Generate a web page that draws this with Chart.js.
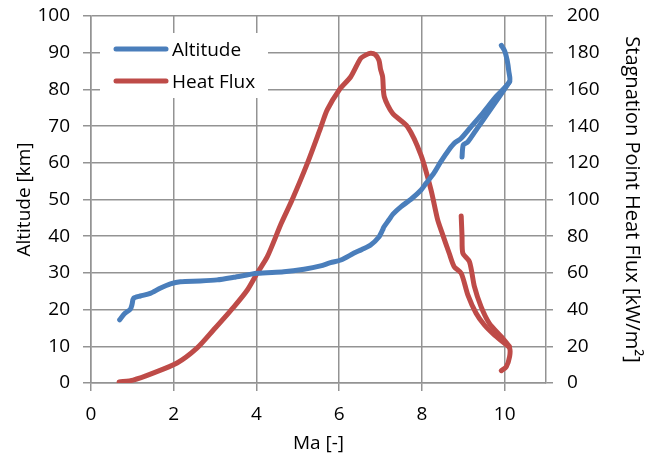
<!DOCTYPE html>
<html><head><meta charset="utf-8">
<script src="https://cdn.jsdelivr.net/npm/chart.js@4"></script>
<style>html,body{margin:0;padding:0;background:#fff}</style>
</head><body>
<canvas id="c" width="652" height="456"></canvas>
<script>
// ---- data ----
const seriesNames = ['Altitude', 'Heat Flux'];
const altMa = [9.92, 10.0, 10.06, 10.1, 10.12, 9.79, 9.47, 9.2, 8.95, 8.78, 8.65, 8.45, 8.29, 8.1, 7.98, 7.75, 7.49, 7.3, 7.2, 7.08, 7.05, 6.96, 6.76, 6.55, 6.36, 6.04, 5.79, 5.55, 5.15, 4.66, 4.02, 3.45, 3.05, 2.64, 2.16, 1.92, 1.67, 1.43, 1.19, 1.03, 0.99, 0.95, 0.82, 0.69];
const altKm = [92, 90.5, 88, 85, 82.1, 78, 73.5, 70, 66.7, 65.3, 63.5, 60.2, 57.2, 54.4, 52.6, 50.2, 48, 46, 44.4, 42.5, 41.7, 39.8, 37.6, 36.4, 35.4, 33.5, 32.8, 31.9, 31, 30.3, 29.9, 28.8, 28.1, 27.8, 27.6, 27, 25.8, 24.4, 23.7, 23.1, 21.3, 20.1, 19, 17.2];
const altBranchMa = [10.12, 9.87, 9.6, 9.35, 9.11, 9.0, 8.97];
const altBranchKm = [82.1, 78, 73.6, 69.6, 65.7, 64.9, 61.6];
const heatMa = [9.92, 10.04, 10.12, 10.12, 10.0, 9.75, 9.51, 9.31, 9.11, 8.95, 8.78, 8.66, 8.5, 8.38, 8.22, 7.98, 7.65, 7.29, 7.09, 7.05, 7.0, 6.96, 6.87, 6.76, 6.65, 6.52, 6.28, 6.0, 5.71, 5.55, 5.23, 4.86, 4.6, 4.26, 4.02, 3.78, 3.45, 2.96, 2.56, 2.08, 1.5, 1.02, 0.68];
const heatKw = [6.7, 8.9, 14.4, 19, 21.6, 26.2, 31.6, 38, 48, 59.8, 63.4, 70.7, 81, 89, 105.2, 124, 139.7, 147, 156, 166.9, 171, 176, 179, 179.7, 178.8, 176.9, 166.9, 159.7, 148.8, 139, 119.7, 99.7, 87, 68.7, 60, 50.7, 41.4, 28.9, 19, 10.9, 5.4, 1.6, 0.5];
const heatBranchMa = [10.12, 9.92, 9.63, 9.43, 9.27, 9.15, 8.99, 8.97, 8.95];
const heatBranchKw = [19.8, 25.2, 32.5, 41.6, 52.5, 66.1, 70.7, 80, 91];
const xRange = [0, 11, 2];
const yRange = [0, 100, 10];
const y1Range = [0, 200, 20];

const BLUE = '#4a7ebb', RED = '#be4b48', GRID = '#939393';
const FONT = {family: '"Open Sans", sans-serif', size: 19};
const zip = (xs, ys) => xs.map((x, i) => ({x, y: ys[i]}));
const lineDs = (label, data, color, axis, inLegend) => ({
  label, data, yAxisID: axis, showLine: true, borderColor: color, backgroundColor: color,
  borderWidth: 5, pointRadius: 0, pointHoverRadius: 0, tension: 0.25,
  borderCapStyle: 'round', borderJoinStyle: 'round', inLegend
});
const noPad = s => { s.paddingTop = 0; s.paddingBottom = 0; s.paddingLeft = 0; s.paddingRight = 0; };

const legendPlugin = {
  id: 'insideLegend',
  afterDraw(chart) {
    const ctx = chart.ctx, ca = chart.chartArea;
    ctx.save();
    ctx.fillStyle = '#fff';
    ctx.fillRect(ca.left + 9, ca.top + 17, 168, 65);
    const items = chart.data.datasets.filter(d => d.inLegend);
    items.forEach((d, i) => {
      const y = ca.top + 33 + i * 32;
      ctx.strokeStyle = d.borderColor; ctx.lineWidth = 5; ctx.lineCap = 'round';
      ctx.beginPath(); ctx.moveTo(ca.left + 25, y); ctx.lineTo(ca.left + 75, y); ctx.stroke();
      ctx.fillStyle = '#000';
      ctx.font = FONT.size + 'px ' + FONT.family;
      ctx.textBaseline = 'alphabetic'; ctx.textAlign = 'left';
      ctx.fillText(d.label, ca.left + 81, y + 7);
    });
    ctx.restore();
  }
};

new Chart(document.getElementById('c'), {
  type: 'scatter',
  data: {datasets: [
    lineDs(seriesNames[0], zip(altMa, altKm), BLUE, 'y', true),
    lineDs(seriesNames[0] + ' (b)', zip(altBranchMa, altBranchKm), BLUE, 'y', false),
    lineDs(seriesNames[1], zip(heatMa, heatKw), RED, 'y1', true),
    lineDs(seriesNames[1] + ' (b)', zip(heatBranchMa, heatBranchKw), RED, 'y1', false)
  ]},
  options: {
    responsive: false, animation: false, devicePixelRatio: 1,
    layout: {padding: {top: 16, left: 0, right: 0, bottom: 0}},
    plugins: {legend: {display: false}, tooltip: {enabled: false}},
    scales: {
      x: {type: 'linear', min: xRange[0], max: xRange[1],
        ticks: {stepSize: xRange[2], includeBounds: false, padding: 12, color: '#000', font: FONT},
        grid: {color: GRID, lineWidth: 1.5, tickLength: 8},
        border: {color: GRID, width: 1.5},
        title: {display: true, text: 'Ma [-]', color: '#000', font: FONT, padding: {top: 0, bottom: 1}},
        afterFit: s => { noPad(s); s.height = 73; }
      },
      y: {type: 'linear', position: 'left', min: yRange[0], max: yRange[1],
        ticks: {stepSize: yRange[2], padding: 13, color: '#000', font: FONT},
        grid: {color: GRID, lineWidth: 1.5, tickLength: 8},
        border: {color: GRID, width: 1.5},
        title: {display: true, text: 'Altitude [km]', color: '#000', font: FONT, padding: {top: 13, bottom: 0}},
        afterFit: s => { noPad(s); s.width = 91; }
      },
      y1: {type: 'linear', position: 'right', min: y1Range[0], max: y1Range[1],
        ticks: {stepSize: y1Range[2], padding: 14, color: '#000', font: FONT},
        grid: {drawOnChartArea: false, color: GRID, lineWidth: 1.5, tickLength: 7},
        border: {color: GRID, width: 1.5},
        title: {display: true, text: 'Stagnation Point Heat Flux [kW/m²]', color: '#000', font: {family: FONT.family, size: 20}, padding: {top: 8, bottom: 0}},
        afterFit: s => { noPad(s); s.width = 106; }
      }
    }
  },
  plugins: [legendPlugin]
});
</script>
</body></html>
